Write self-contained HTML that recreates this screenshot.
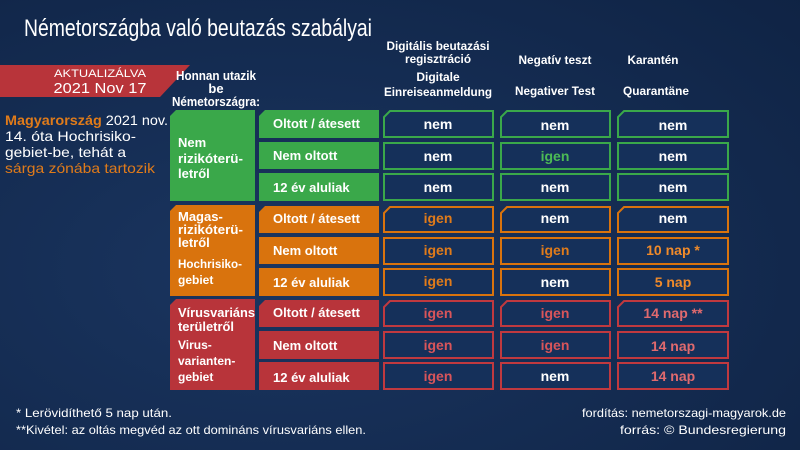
<!DOCTYPE html>
<html><head><meta charset="utf-8"><style>
html,body{margin:0;padding:0;width:800px;height:450px;overflow:hidden;background:#13294d}
svg{display:block}
text{font-family:"Liberation Sans",sans-serif}
</style></head><body>
<svg width="800" height="450" viewBox="0 0 800 450" xmlns="http://www.w3.org/2000/svg">
<defs>
<radialGradient id="bg" cx="0.35" cy="0.6" r="0.9">
<stop offset="0" stop-color="#1a3560"/><stop offset="1" stop-color="#0f2344"/>
</radialGradient>
</defs>
<rect width="800" height="450" fill="url(#bg)"/>
<text x="24" y="36" font-size="24" fill="#fff" textLength="348" lengthAdjust="spacingAndGlyphs">Németországba való beutazás szabályai</text>
<polygon points="0,65 190,65 160,97 0,97" fill="#b8343a"/>
<text x="100" y="77" font-size="11" fill="#fff" text-anchor="middle" textLength="92" lengthAdjust="spacingAndGlyphs">AKTUALIZÁLVA</text>
<text x="100" y="93" font-size="15" fill="#fff" text-anchor="middle" textLength="93" lengthAdjust="spacingAndGlyphs">2021 Nov 17</text>
<g font-size="13" font-weight="bold" fill="#fff" text-anchor="middle">
<text x="216" y="80" textLength="80" lengthAdjust="spacingAndGlyphs">Honnan utazik</text>
<text x="216" y="93">be</text>
<text x="216" y="106" textLength="88" lengthAdjust="spacingAndGlyphs">Németországra:</text>
</g>
<g font-size="14" fill="#fff">
<text x="5" y="125" textLength="163" lengthAdjust="spacingAndGlyphs"><tspan fill="#e07b1a" font-weight="bold">Magyarország</tspan> 2021 nov.</text>
<text x="5" y="141" textLength="131" lengthAdjust="spacingAndGlyphs">14. óta  Hochrisiko-</text>
<text x="5" y="157" textLength="121" lengthAdjust="spacingAndGlyphs">gebiet-be, tehát a</text>
<text x="5" y="173" fill="#e07b1a" textLength="150" lengthAdjust="spacingAndGlyphs">sárga zónába tartozik</text>
</g>
<g font-size="12" font-weight="bold" fill="#fff" text-anchor="middle">
<text x="438" y="50" textLength="103" lengthAdjust="spacingAndGlyphs">Digitális beutazási</text>
<text x="438" y="63" textLength="66" lengthAdjust="spacingAndGlyphs">regisztráció</text>
<text x="438" y="81">Digitale</text>
<text x="438" y="96" textLength="108" lengthAdjust="spacingAndGlyphs">Einreiseanmeldung</text>
<text x="555" y="64" textLength="73" lengthAdjust="spacingAndGlyphs">Negatív teszt</text>
<text x="555" y="95" textLength="80" lengthAdjust="spacingAndGlyphs">Negativer Test</text>
<text x="653" y="64" textLength="51" lengthAdjust="spacingAndGlyphs">Karantén</text>
<text x="656" y="95" textLength="66" lengthAdjust="spacingAndGlyphs">Quarantäne</text>
</g>
<!-- group boxes -->
<polygon points="176,110 255,110 255,201 170,201 170,116" fill="#3aa84a"/>
<polygon points="176,205 255,205 255,296 170,296 170,211" fill="#d9730d"/>
<polygon points="176,299 255,299 255,390 170,390 170,305" fill="#b8343a"/>
<g font-size="13" font-weight="bold" fill="#fff">
<text x="178" y="147">Nem</text>
<text x="178" y="163" textLength="65" lengthAdjust="spacingAndGlyphs">rizikóterü-</text>
<text x="178" y="178">letről</text>
<text x="178" y="221">Magas-</text>
<text x="178" y="234" textLength="65" lengthAdjust="spacingAndGlyphs">rizikóterü-</text>
<text x="178" y="247">letről</text>
<text x="178" y="268" font-size="12" textLength="64" lengthAdjust="spacingAndGlyphs">Hochrisiko-</text>
<text x="178" y="284" font-size="12">gebiet</text>
<text x="178" y="317" textLength="77" lengthAdjust="spacingAndGlyphs">Vírusvariáns</text>
<text x="178" y="331" textLength="56" lengthAdjust="spacingAndGlyphs">területről</text>
<text x="178" y="349" font-size="12">Virus-</text>
<text x="178" y="365" font-size="12">varianten-</text>
<text x="178" y="381" font-size="12">gebiet</text>
</g>
<!-- row label cells -->
<g>
<polygon points="265,110 379,110 379,138 259,138 259,116" fill="#3aa84a"/>
<rect x="259" y="142" width="120" height="27" fill="#3aa84a"/>
<rect x="259" y="173" width="120" height="28" fill="#3aa84a"/>
<polygon points="265,206 379,206 379,233 259,233 259,212" fill="#d9730d"/>
<rect x="259" y="237" width="120" height="27" fill="#d9730d"/>
<rect x="259" y="268" width="120" height="28" fill="#d9730d"/>
<polygon points="265,300 379,300 379,327 259,327 259,306" fill="#b8343a"/>
<rect x="259" y="331" width="120" height="28" fill="#b8343a"/>
<rect x="259" y="362" width="120" height="28" fill="#b8343a"/>
</g>
<g font-size="13" font-weight="bold" fill="#fff">
<text x="273" y="128" textLength="87" lengthAdjust="spacingAndGlyphs">Oltott / átesett</text>
<text x="273" y="160">Nem oltott</text>
<text x="273" y="192">12 év aluliak</text>
<text x="273" y="223" textLength="87" lengthAdjust="spacingAndGlyphs">Oltott / átesett</text>
<text x="273" y="255">Nem oltott</text>
<text x="273" y="287">12 év aluliak</text>
<text x="273" y="317" textLength="87" lengthAdjust="spacingAndGlyphs">Oltott / átesett</text>
<text x="273" y="350">Nem oltott</text>
<text x="273" y="382">12 év aluliak</text>
</g>
<!-- value cells -->
<g fill="#15305a" stroke-width="2">
<g stroke="#3aa84a">
<polygon points="390,111 493,111 493,137 384,137 384,117"/><polygon points="507,111 610,111 610,137 501,137 501,117"/><polygon points="624,111 728,111 728,137 618,137 618,117"/>
<rect x="384" y="143" width="109" height="26"/><rect x="501" y="143" width="109" height="26"/><rect x="618" y="143" width="110" height="26"/>
<rect x="384" y="174" width="109" height="26"/><rect x="501" y="174" width="109" height="26"/><rect x="618" y="174" width="110" height="26"/>
</g>
<g stroke="#d9730d">
<polygon points="390,207 493,207 493,232 384,232 384,213"/><polygon points="507,207 610,207 610,232 501,232 501,213"/><polygon points="624,207 728,207 728,232 618,232 618,213"/>
<rect x="384" y="238" width="109" height="26"/><rect x="501" y="238" width="109" height="26"/><rect x="618" y="238" width="110" height="26"/>
<rect x="384" y="269" width="109" height="26"/><rect x="501" y="269" width="109" height="26"/><rect x="618" y="269" width="110" height="26"/>
</g>
<g stroke="#c0393f">
<polygon points="390,301 493,301 493,326 384,326 384,307"/><polygon points="507,301 610,301 610,326 501,326 501,307"/><polygon points="624,301 728,301 728,326 618,326 618,307"/>
<rect x="384" y="332" width="109" height="26"/><rect x="501" y="332" width="109" height="26"/><rect x="618" y="332" width="110" height="26"/>
<rect x="384" y="363" width="109" height="26"/><rect x="501" y="363" width="109" height="26"/><rect x="618" y="363" width="110" height="26"/>
</g>
</g>
<g font-size="14" font-weight="bold" text-anchor="middle" fill="#fff">
<text x="438" y="129">nem</text><text x="555" y="130">nem</text><text x="673" y="130">nem</text>
<text x="438" y="161">nem</text><text x="555" y="161" fill="#4cbb55">igen</text><text x="673" y="161">nem</text>
<text x="438" y="192">nem</text><text x="555" y="192">nem</text><text x="673" y="192">nem</text>
<text x="438" y="223" fill="#e07b1a">igen</text><text x="555" y="223">nem</text><text x="673" y="223">nem</text>
<text x="438" y="255" fill="#e07b1a">igen</text><text x="555" y="255" fill="#e07b1a">igen</text><text x="673" y="255" fill="#f08a2a">10 nap *</text>
<text x="438" y="286" fill="#e07b1a">igen</text><text x="555" y="287">nem</text><text x="673" y="287" fill="#f08a2a">5 nap</text>
<text x="438" y="318" fill="#d9555a">igen</text><text x="555" y="318" fill="#d9555a">igen</text><text x="673" y="318" fill="#e06a6e">14 nap **</text>
<text x="438" y="350" fill="#d9555a">igen</text><text x="555" y="350" fill="#d9555a">igen</text><text x="673" y="351" fill="#e06a6e">14 nap</text>
<text x="438" y="381" fill="#d9555a">igen</text><text x="555" y="381">nem</text><text x="673" y="381" fill="#e06a6e">14 nap</text>
</g>
<g font-size="12" fill="#fff">
<text x="16" y="417" textLength="156" lengthAdjust="spacingAndGlyphs">*  Lerövidíthető 5 nap után.</text>
<text x="16" y="434" textLength="350" lengthAdjust="spacingAndGlyphs">**Kivétel: az oltás megvéd az ott domináns vírusvariáns ellen.</text>
<text x="786" y="417" text-anchor="end" textLength="204" lengthAdjust="spacingAndGlyphs">fordítás: nemetorszagi-magyarok.de</text>
<text x="786" y="434" text-anchor="end" textLength="166" lengthAdjust="spacingAndGlyphs">forrás: © Bundesregierung</text>
</g>
</svg>
</body></html>
